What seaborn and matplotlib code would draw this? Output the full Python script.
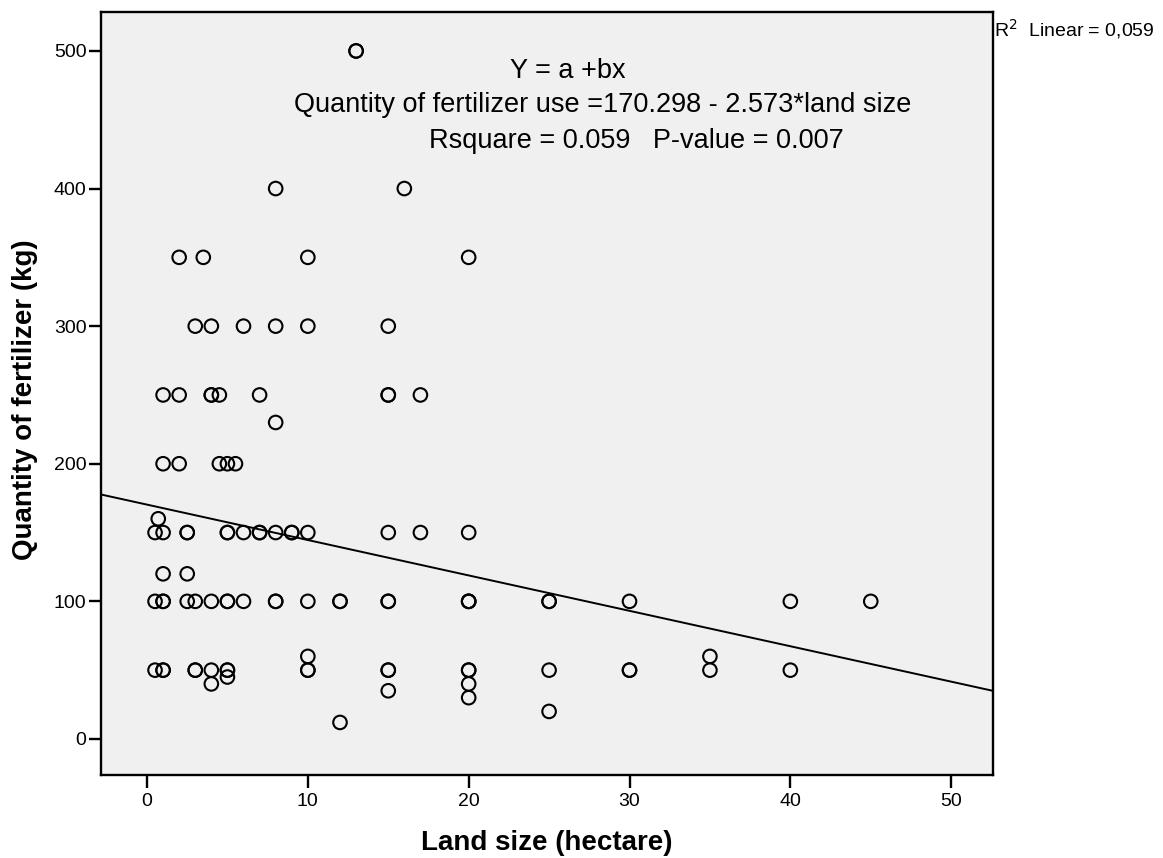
import numpy as np
import pandas as pd
import matplotlib
matplotlib.use("Agg")
import matplotlib.pyplot as plt
import seaborn as sns

# ---- data ----
land_size = [
    13, 13,
    8, 16,
    2, 3.5, 10, 20,
    3, 4, 6, 8, 10, 15,
    1, 2, 4, 4, 4.5, 7, 15, 15, 17,
    8,
    1, 2, 4.5, 5, 5.5,
    0.7,
    0.5, 1, 2.5, 2.5, 5, 5, 6, 7, 7, 8, 9, 9, 10, 15, 17, 20,
    1, 2.5,
    0.5, 1, 1, 2.5, 3, 4, 5, 5, 6, 8, 8, 10, 12, 12, 15, 15, 20, 20, 20, 25, 25, 30, 40, 45,
    10, 35,
    0.5, 1, 1, 3, 3, 4, 5, 5, 10, 10, 15, 15, 20, 20, 25, 30, 30, 35, 40,
    5,
    4, 20,
    15,
    20,
    25,
    12,
]
fertilizer = [
    500, 500,
    400, 400,
    350, 350, 350, 350,
    300, 300, 300, 300, 300, 300,
    250, 250, 250, 250, 250, 250, 250, 250, 250,
    230,
    200, 200, 200, 200, 200,
    160,
    150, 150, 150, 150, 150, 150, 150, 150, 150, 150, 150, 150, 150, 150, 150, 150,
    120, 120,
    100, 100, 100, 100, 100, 100, 100, 100, 100, 100, 100, 100, 100, 100, 100, 100, 100, 100, 100, 100, 100, 100, 100, 100,
    60, 60,
    50, 50, 50, 50, 50, 50, 50, 50, 50, 50, 50, 50, 50, 50, 50, 50, 50, 50, 50,
    45,
    40, 40,
    35,
    30,
    20,
    12,
]
intercept = 170.298
slope = -2.573
x_ticks = [0, 10, 20, 30, 40, 50]
y_ticks = [0, 100, 200, 300, 400, 500]

df = pd.DataFrame({"land": land_size, "fert": fertilizer})

sns.set_style("ticks")
plt.rcParams["font.family"] = ["Liberation Sans", "DejaVu Sans"]
plt.rcParams["text.color"] = "black"
plt.rcParams["axes.labelcolor"] = "black"

fig = plt.figure(figsize=(11.63, 8.58), dpi=100)
ax = fig.add_axes([101 / 1163, 1 - 775 / 858, (993 - 101) / 1163, (775 - 12) / 858])
ax.set_facecolor("#F0F0F0")

sns.scatterplot(data=df, x="land", y="fert", ax=ax, marker="o", s=95,
                facecolor="none", edgecolor="black", linewidth=1.5, zorder=3)
ax.axline((0, intercept), slope=slope, color="black", linewidth=1.4, zorder=2)

ax.set_xlim(-2.86, 52.6)
ax.set_ylim(-26.2, 528.3)
ax.set_xticks(x_ticks)
ax.set_yticks(y_ticks)
ax.tick_params(axis="both", direction="out", length=9, width=1.7, labelsize=14,
               colors="black", pad=1.5)
ax.tick_params(axis="x", pad=4)
for sp in ax.spines.values():
    sp.set_color("black")
    sp.set_linewidth(1.7)

ax.set_xlabel("Land size (hectare)", fontsize=20, fontweight="bold", labelpad=14)
ax.set_ylabel("Quantity of fertilizer (kg)", fontsize=20, fontweight="bold")
ax.yaxis.set_label_coords(-0.0706, 0.4915)

ax.text(568 / 1163, 1 - 71 / 858, "Y = a +bx", transform=fig.transFigure,
        ha="center", va="center", fontsize=19.5)
ax.text(603 / 1163, 1 - 105 / 858, "Quantity of fertilizer use =170.298 - 2.573*land size",
        transform=fig.transFigure, ha="center", va="center", fontsize=19.5)
ax.text(636 / 1163, 1 - 141 / 858, "Rsquare = 0.059   P-value = 0.007",
        transform=fig.transFigure, ha="center", va="center", fontsize=19.5)
ax.text(994 / 1163, 1 - 29 / 858, "R$^2$  Linear = 0,059", transform=fig.transFigure,
        ha="left", va="center", fontsize=14)

fig.savefig("out.png", dpi=100, facecolor="white")
